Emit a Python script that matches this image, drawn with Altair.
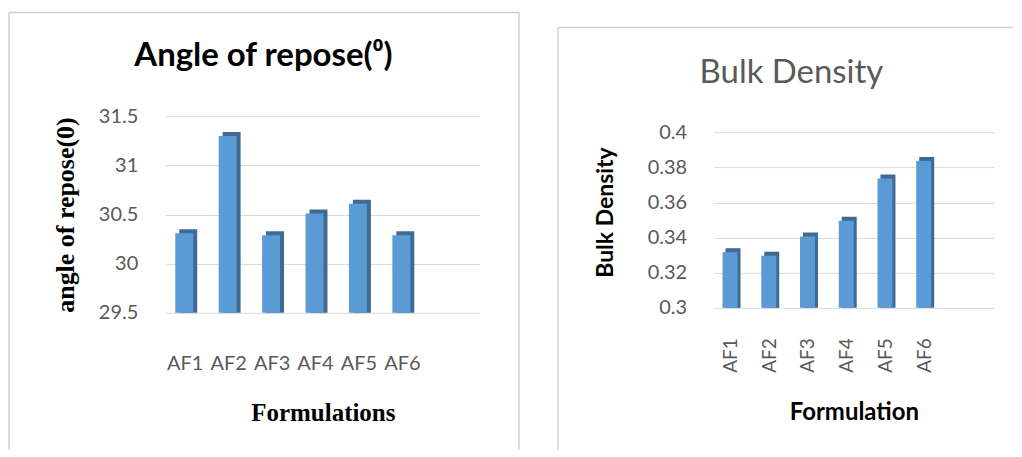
import altair as alt
import pandas as pd

formulations = ["AF1", "AF2", "AF3", "AF4", "AF5", "AF6"]
angle_of_repose = [30.35, 31.34, 30.33, 30.55, 30.65, 30.33]
bulk_density = [0.334, 0.332, 0.343, 0.352, 0.376, 0.386]

angle_ticks = [29.5, 30, 30.5, 31, 31.5]
bulk_ticks = [0.3, 0.32, 0.34, 0.36, 0.38, 0.4]

left_title = "Angle of repose(⁰)"
left_ytitle = "angle of repose(0)"
left_xtitle = "Formulations"
right_title = "Bulk Density"
right_ytitle = "Bulk Density"
right_xtitle = "Formulation"

FRONT = "#5B9BD5"
SIDE = "#3E6A94"
GRID = "#D9D9D9"
BORDER = "#D0D0D0"
LABEL = "#595959"

band = dict(paddingInner=0.1, paddingOuter=0.67, align=0)

# ---------------- left chart ----------------
df1 = pd.DataFrame({"Formulation": formulations, "Angle": angle_of_repose})

base1 = alt.Chart(df1).encode(
    x=alt.X("Formulation:N", sort=formulations, scale=alt.Scale(**band),
            axis=alt.Axis(title=left_xtitle, labelAngle=0, domain=False, ticks=False,
                          labelFont="Lato", labelFontSize=20, labelColor=LABEL,
                          labelPadding=41, titleFont="Liberation Serif",
                          titleFontSize=25, titleFontWeight="bold", titleColor="black",
                          titlePadding=27)),
    y=alt.Y("Angle:Q", scale=alt.Scale(domain=[29.5, 31.5], zero=False, nice=False),
            axis=alt.Axis(title=left_ytitle, values=angle_ticks, format="~g",
                          domain=False, ticks=False, gridColor=GRID,
                          labelFont="Lato", labelFontSize=20, labelColor=LABEL,
                          labelPadding=28, titleFont="Liberation Serif",
                          titleFontSize=26, titleFontWeight="bold", titleColor="black",
                          titlePadding=20)),
    y2=alt.datum(29.5),
)
side1 = base1.mark_bar(size=18, color=SIDE, xOffset=3, yOffset=0)
front1 = base1.mark_bar(size=18, color=FRONT, xOffset=-1, yOffset=4)

t1 = alt.Chart(pd.DataFrame({"t": [left_title]})).mark_text(
    font="Lato", fontSize=33, fontWeight="bold", color="black", baseline="middle"
).encode(text="t:N", x=alt.value(98), y=alt.value(-60))

one = pd.DataFrame({"a": [0]})
b1l = alt.Chart(one).mark_rule(color=BORDER, strokeWidth=1.5).encode(
    x=alt.value(-157), y=alt.value(-104), y2=alt.value(334))
b1t = alt.Chart(one).mark_rule(color=BORDER, strokeWidth=1.5).encode(
    x=alt.value(-157), x2=alt.value(354), y=alt.value(-104))
b1r = alt.Chart(one).mark_rule(color=BORDER, strokeWidth=1.5).encode(
    x=alt.value(354), y=alt.value(-104), y2=alt.value(334))

left = alt.layer(b1l, b1t, b1r, side1, front1, t1).properties(width=315, height=197)

# ---------------- right chart ----------------
df2 = pd.DataFrame({"Formulation": formulations, "Bulk": bulk_density})

base2 = alt.Chart(df2).encode(
    x=alt.X("Formulation:N", sort=formulations, scale=alt.Scale(**band),
            axis=alt.Axis(title=right_xtitle, labelAngle=270, domain=False, ticks=False,
                          labelFont="Lato", labelFontSize=19, labelColor=LABEL,
                          labelPadding=30, titleFont="Lato",
                          titleFontSize=24, titleFontWeight="bold", titleColor="black",
                          titlePadding=28)),
    y=alt.Y("Bulk:Q", scale=alt.Scale(domain=[0.3, 0.40925], zero=False, nice=False),
            axis=alt.Axis(title=right_ytitle, values=bulk_ticks, format="~g",
                          domain=False, ticks=False, gridColor=GRID,
                          labelFont="Lato", labelFontSize=20, labelColor=LABEL,
                          labelPadding=27, titleFont="Lato",
                          titleFontSize=23, titleFontWeight="bold", titleColor="black",
                          titlePadding=30)),
    y2=alt.datum(0.3),
)
side2 = base2.mark_bar(size=15, color=SIDE, xOffset=2, yOffset=0)
front2 = base2.mark_bar(size=15, color=FRONT, xOffset=-1, yOffset=4)

t2 = alt.Chart(pd.DataFrame({"t": [right_title]})).mark_text(
    font="Lato", fontSize=33, color=LABEL, baseline="middle"
).encode(text="t:N", x=alt.value(78), y=alt.value(-43))

b2l = alt.Chart(one).mark_rule(color=BORDER, strokeWidth=1.5).encode(
    x=alt.value(-156), y=alt.value(-89), y2=alt.value(334))
b2t = alt.Chart(one).mark_rule(color=BORDER, strokeWidth=1.5).encode(
    x=alt.value(-156), x2=alt.value(300), y=alt.value(-89))

right = alt.layer(b2l, b2t, side2, front2, t2).properties(width=281, height=192)

chart = alt.hconcat(left, right, spacing=37).configure_view(stroke=None).properties(
    padding={"left": 0, "top": 3, "right": 0, "bottom": 0}
)

chart.save("out.html", embed_options={"renderer": "svg", "actions": False})
